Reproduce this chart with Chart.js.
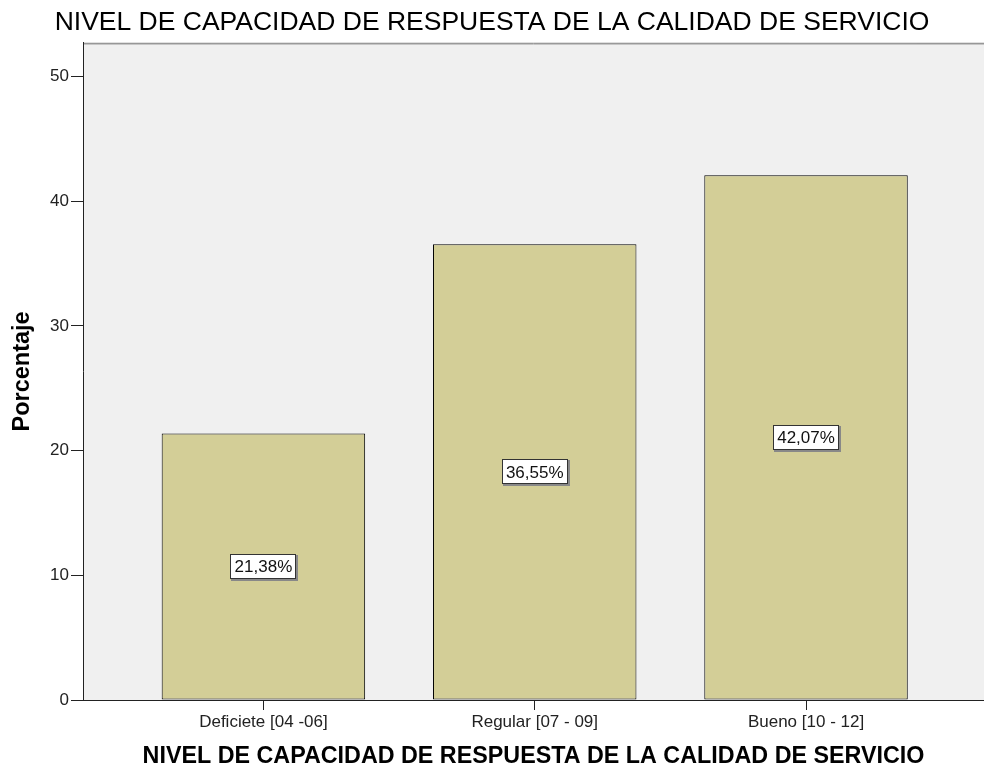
<!DOCTYPE html>
<html>
<head>
<meta charset="utf-8">
<script src="https://cdn.jsdelivr.net/npm/chart.js@4"></script>
<style>
  body { margin: 0; background: #fff; }
  #wrap { width: 984px; height: 771px; position: relative; }
</style>
</head>
<body>
<div id="wrap"><canvas id="miGrafica"></canvas></div>
<script>
// datos
var categorias = ['Deficiete [04 -06]', 'Regular [07 - 09]', 'Bueno [10 - 12]'];
var porcentajes = [21.38, 36.55, 42.07];
var ticksY = [0, 10, 20, 30, 40, 50];

var fuente = "Arial, 'Liberation Sans', sans-serif";

// fondo gris del area del grafico y linea superior
var fondoPlugin = {
  id: 'fondo',
  beforeDraw: function (chart) {
    var a = chart.chartArea, ctx = chart.ctx;
    ctx.save();
    ctx.fillStyle = '#f0f0f0';
    ctx.fillRect(a.left, a.top, a.right - a.left, a.bottom - a.top);
    ctx.strokeStyle = '#777';
    ctx.lineWidth = 1;
    ctx.beginPath();
    ctx.moveTo(a.left, a.top + 0.5);
    ctx.lineTo(a.right, a.top + 0.5);
    ctx.stroke();
    ctx.strokeStyle = '#bbb';
    ctx.beginPath();
    ctx.moveTo(a.left, a.top + 1.5);
    ctx.lineTo(a.right, a.top + 1.5);
    ctx.stroke();
    ctx.restore();
  }
};

// etiquetas con el porcentaje en medio de cada barra
var etiquetasPlugin = {
  id: 'etiquetas',
  afterDatasetsDraw: function (chart) {
    var ctx = chart.ctx;
    var meta = chart.getDatasetMeta(0);
    ctx.save();
    ctx.font = '17px ' + fuente;
    ctx.textAlign = 'center';
    ctx.textBaseline = 'middle';
    meta.data.forEach(function (bar, i) {
      var txt = porcentajes[i].toFixed(2).replace('.', ',') + '%';
      var w = Math.round(ctx.measureText(txt).width + 8);
      var h = 25;
      var cx = bar.x, cy = (bar.y + bar.base) / 2;
      var x0 = Math.round(cx - w / 2), y0 = Math.round(cy - h / 2);
      ctx.fillStyle = '#888';
      ctx.fillRect(x0 + 1, y0 + 1, w + 1, h + 1);
      ctx.fillStyle = '#fff';
      ctx.fillRect(x0, y0, w, h);
      ctx.strokeStyle = '#333';
      ctx.lineWidth = 1;
      ctx.strokeRect(x0 + 0.5, y0 + 0.5, w - 1, h - 1);
      ctx.fillStyle = '#111';
      ctx.fillText(txt, cx, cy + 1);
    });
    ctx.restore();
  }
};

var ctx = document.getElementById('miGrafica').getContext('2d');
var chart = new Chart(ctx, {
  type: 'bar',
  data: {
    datasets: [{
      label: 'Porcentaje',
      data: porcentajes.map(function (v, i) { return { x: i + 1, y: v }; }),
      backgroundColor: '#d3ce97',
      borderColor: '#000',
      borderWidth: 1,
      borderSkipped: false,
      categoryPercentage: 1,
      barPercentage: 0.75
    }]
  },
  options: {
    responsive: true,
    maintainAspectRatio: false,
    animation: false,
    layout: { padding: 0 },
    plugins: {
      legend: { display: false },
      tooltip: { enabled: false },
      title: {
        display: true,
        text: 'NIVEL DE CAPACIDAD DE RESPUESTA DE LA CALIDAD DE SERVICIO',
        color: '#000',
        font: { family: fuente, size: 26.5, weight: 'normal' },
        padding: { top: 7, bottom: 4 }
      }
    },
    scales: {
      x: {
        type: 'linear',
        offset: false,
        min: 0.335,
        max: 3.656,
        afterBuildTicks: function (scale) {
          scale.ticks = categorias.map(function (c, i) { return { value: i + 1 }; });
        },
        afterFit: function (scale) { scale.height = 71; },
        ticks: {
          autoSkip: false,
          maxRotation: 0,
          padding: 2,
          color: '#222',
          font: { family: fuente, size: 17 },
          callback: function (v) { return categorias[v - 1]; }
        },
        grid: { offset: false, drawOnChartArea: false, drawTicks: true, tickLength: 10, tickColor: '#222', tickWidth: 1 },
        border: { display: true, color: '#222', width: 1 },
        title: {
          display: true,
          text: 'NIVEL DE CAPACIDAD DE RESPUESTA DE LA CALIDAD DE SERVICIO',
          color: '#000',
          font: { family: fuente, size: 23.3, weight: 'bold' },
          padding: { top: 0, bottom: 0 }
        }
      },
      y: {
        min: 0,
        max: 52.7,
        afterBuildTicks: function (scale) {
          scale.ticks = ticksY.map(function (v) { return { value: v }; });
        },
        afterFit: function (scale) { scale.width = 83; },
        ticks: {
          padding: 2,
          color: '#222',
          font: { family: fuente, size: 17 }
        },
        grid: { drawOnChartArea: false, drawTicks: true, tickLength: 12, tickColor: '#222', tickWidth: 1 },
        border: { display: true, color: '#222', width: 1 },
        title: {
          display: true,
          text: 'Porcentaje',
          color: '#000',
          font: { family: fuente, size: 23.5, weight: 'bold' },
          padding: { top: 8, bottom: 0 }
        }
      }
    }
  },
  plugins: [fondoPlugin, etiquetasPlugin]
});
</script>
</body>
</html>
